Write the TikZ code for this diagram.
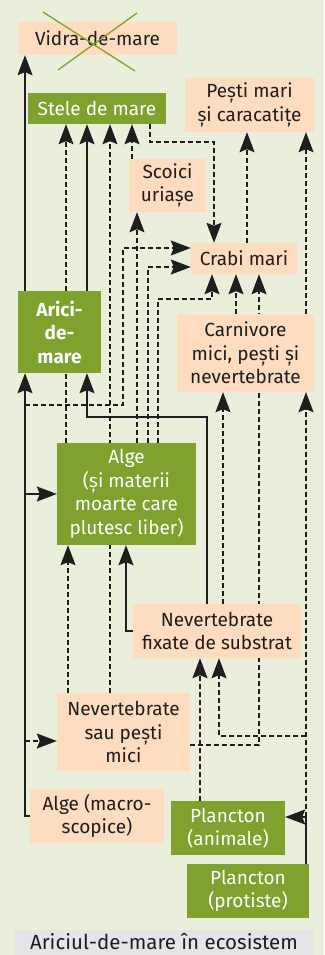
\documentclass[tikz,border=0pt]{standalone}
\usepackage{fontspec}
\setmainfont{Fira Sans}
\usetikzlibrary{arrows.meta}
\definecolor{bgc}{HTML}{E9EFDA}
\definecolor{peach}{HTML}{FDDCBF}
\definecolor{leaf}{HTML}{7FA22E}
\definecolor{capg}{HTML}{E4E5E6}
\definecolor{ink}{HTML}{1E1E1E}
\pgfdeclarelayer{back}
\pgfdeclarelayer{edges}
\pgfsetlayers{back,edges,main}
\begin{document}
\begin{tikzpicture}[x=1pt,y=-1pt,
  box/.style={inner sep=0pt, align=center, font=\fontsize{19}{23.5}\selectfont},
  pbox/.style={box, fill=peach, text=ink},
  gbox/.style={box, fill=leaf, text=white},
  tipa/.tip={Stealth[length=20pt,width=15pt,inset=3pt]},
  sol/.style={draw=ink, line width=1.4pt, -tipa},
  dsh/.style={sol, dash pattern=on 5pt off 3pt},
  cross/.style={draw=leaf, line width=1.3pt}
]
\useasboundingbox (0,0) rectangle (324,955);
\begin{pgfonlayer}{back}
\fill[bgc] (0,0) rectangle (324,955);
\fill[capg] (15,930) rectangle (313,958);
\end{pgfonlayer}

% nodes
\node[pbox, minimum width=159pt, minimum height=33pt] (vidra) at (97.5,38.5) {Vidra-de-mare};
\node[gbox, minimum width=138pt, minimum height=31pt] (stele) at (97,108.5) {Stele de mare};
\node[pbox, minimum width=129pt, minimum height=54pt] (pesti) at (249.5,105) {Pești mari\\și caracatițe};
\node[pbox, minimum width=77pt, minimum height=53pt] (scoici) at (167.5,185.5) {Scoici\\uriașe};
\node[pbox, minimum width=106pt, minimum height=31pt] (crabi) at (244,258.5) {Crabi mari};
\node[gbox, minimum width=83pt, minimum height=82pt, font=\fontsize{19}{23.5}\selectfont\bfseries] (arici) at (59.5,332) {Arici-\\de-\\mare};
\node[pbox, minimum width=137pt, minimum height=78pt] (carniv) at (245.5,353) {Carnivore\\mici, pești și\\nevertebrate};
\node[gbox, minimum width=139pt, minimum height=102pt] (alge) at (126.5,494) {Alge\\(și materii\\moarte care\\plutesc liber)};
\node[pbox, minimum width=168pt, minimum height=54pt] (nevfix) at (217,631) {Nevertebrate\\fixate de substrat};
\node[pbox, minimum width=133pt, minimum height=78pt] (nevmici) at (123.5,732) {Nevertebrate\\sau pești\\mici};
\node[pbox, minimum width=134pt, minimum height=54pt] (algemacro) at (97,816) {Alge (macro-\\scopice)};
\node[gbox, minimum width=114pt, minimum height=54pt] (planca) at (228,828) {Plancton\\(animale)};
\node[gbox, minimum width=122pt, minimum height=54pt] (plancp) at (248,891) {Plancton\\(protiste)};
\node[inner sep=0pt, anchor=base, text=ink, font=\fontsize{20.5}{24}\selectfont] (cap) at (164,949.5) {Ariciul-de-mare în ecosistem};

% cross over Vidra
\draw[cross] (43,12) -- (135,71);
\draw[cross] (137,13) -- (58,70);

% column / row helpers
\foreach \c in {25,66,68,87,110,123,126,132,137,148,150,158,200,207,212,214,219,223,236,247,259,306}
  {\coordinate (c\c) at (\c,0);}
\foreach \r in {142,248,267,299,405,417,736,741,745,817}
  {\coordinate (r\r) at (0,\r);}

\begin{pgfonlayer}{edges}
\draw[sol] (arici.north -| c25) -- (vidra.south -| c25);
\draw[sol] (algemacro.west) -- (algemacro.west -| c25) -- (arici.south -| c25);
\draw[sol] (alge.west -| c25) -- (alge.west);
\draw[dsh] (c25 |- r741) -- (nevmici.west |- r741);
\draw[dsh] (c25 |- r405) -- (c123 |- r405) -- (c123 |- r248) -- (crabi.west |- r248);
\draw[sol] (arici.north -| c87) -- (stele.south -| c87);
\draw[dsh] (alge.north -| c66) -- (stele.south -| c66);
\draw[dsh] (nevmici.north -| c110) -- (stele.south -| c110);
\draw[dsh] (scoici.north -| c132) -- (stele.south -| c132);
\draw[dsh] (stele.south -| c150) -- (c150 |- r142) -- (c214 |- r142) -- (crabi.north -| c214);
\draw[dsh] (alge.north -| c137) -- (scoici.south -| c137);
\draw[dsh] (alge.north -| c148) -- (c148 |- r267) -- (crabi.west |- r267);
\draw[dsh] (alge.north -| c158) -- (c158 |- r299) -- (c212 |- r299) -- (crabi.south -| c212);
\draw[dsh] (crabi.north -| c247) -- (pesti.south -| c247);
\draw[dsh] (carniv.north -| c306) -- (pesti.south -| c306);
\draw[dsh] (carniv.north -| c236) -- (crabi.south -| c236);
\draw[dsh] (nevmici.east |- r745) -- (c259 |- r745) -- (crabi.south -| c259);
\draw[dsh] (nevfix.north -| c223) -- (carniv.south -| c223);
\draw[sol] (nevfix.north -| c207) -- (c207 |- r417) -- (c87 |- r417) -- (arici.south -| c87);
\draw[sol] (nevfix.west) -- (nevfix.west -| c126) -- (alge.south -| c126);
\draw[dsh] (nevmici.north -| c68) -- (alge.south -| c68);
\draw[dsh] (planca.north -| c200) -- (nevfix.south -| c200);
\draw[sol] (plancp.north -| c306) -- (c306 |- r817) -- (planca.east |- r817);
\draw[dsh] (c306 |- r817) -- (carniv.south -| c306);
\draw[dsh] (c306 |- r736) -- (c219 |- r736) -- (nevfix.south -| c219);
\end{pgfonlayer}
\end{tikzpicture}
\end{document}
